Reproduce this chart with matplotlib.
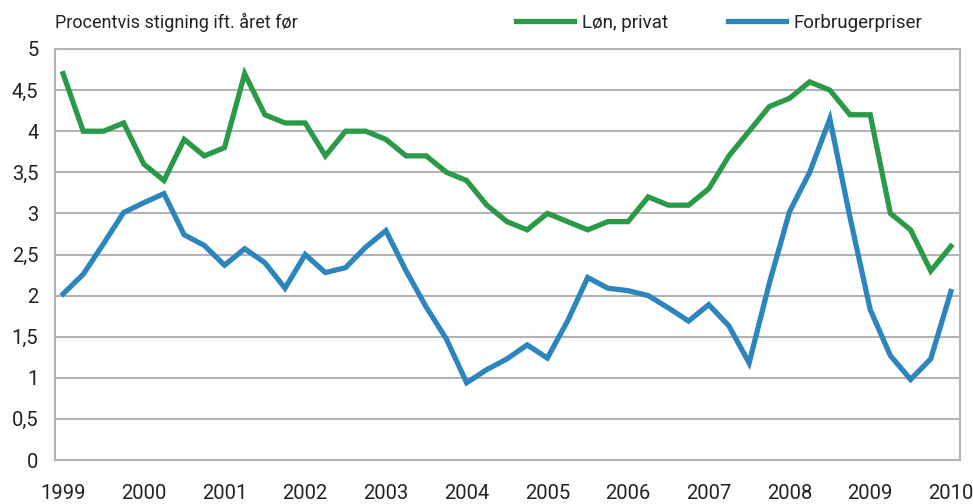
import matplotlib
matplotlib.use("Agg")
import matplotlib.pyplot as plt
from matplotlib import font_manager

# font: condensed sans if available
names = {f.name for f in font_manager.fontManager.ttflist}
if "Liberation Sans Narrow" in names:
    FONT = ["Liberation Sans Narrow", "DejaVu Sans"]
else:
    FONT = ["Roboto", "DejaVu Sans"]
plt.rcParams["font.family"] = FONT

# quarterly data 1999K1 - 2010K1
years = [1999, 2000, 2001, 2002, 2003, 2004, 2005, 2006, 2007, 2008, 2009, 2010]

loen_privat = [4.7, 4.0, 4.0, 4.1, 3.6, 3.4, 3.9, 3.7, 3.8, 4.7, 4.2, 4.1,
               4.1, 3.7, 4.0, 4.0, 3.9, 3.7, 3.7, 3.5, 3.4, 3.1, 2.9, 2.8,
               3.0, 2.9, 2.8, 2.9, 2.9, 3.2, 3.1, 3.1, 3.3, 3.7, 4.0, 4.3,
               4.4, 4.6, 4.5, 4.2, 4.2, 3.0, 2.8, 2.3, 2.6]

forbrugerpriser = [2.02, 2.26, 2.63, 3.01, 3.13, 3.24, 2.74, 2.61, 2.37, 2.57, 2.4, 2.09,
                   2.5, 2.28, 2.34, 2.59, 2.79, 2.3, 1.86, 1.47, 0.94, 1.1, 1.23, 1.4,
                   1.24, 1.69, 2.22, 2.09, 2.06, 2.0, 1.85, 1.69, 1.89, 1.63, 1.18, 2.15,
                   3.02, 3.5, 4.15, 2.95, 1.83, 1.27, 0.98, 1.23, 2.05]

GREEN = "#2b9a48"
BLUE = "#2c86bd"
GRID = "#b3b3b5"
TXT = "#222222"

x = list(range(len(loen_privat)))

fig = plt.figure(figsize=(9.73, 5.04), dpi=100)
ax = fig.add_axes([55 / 973, 1 - 460 / 504, 905 / 973, 411 / 504])

l1, = ax.plot(x, loen_privat, color=GREEN, lw=3.8, solid_joinstyle="miter", label="Løn, privat", zorder=3)
l2, = ax.plot(x, forbrugerpriser, color=BLUE, lw=3.8, solid_joinstyle="miter", label="Forbrugerpriser", zorder=3)

ax.set_xlim(-0.4, len(x) - 0.55)
ax.set_ylim(0, 5)

yt = [i * 0.5 for i in range(11)]
ax.set_yticks(yt)
ax.set_yticklabels([f"{v:g}".replace(".", ",") for v in yt])
ax.set_xticks([4 * i for i in range(len(years))])
ax.set_xticklabels([str(y) for y in years])

ax.yaxis.grid(True, color=GRID, lw=1.5)
ax.set_axisbelow(True)
for s in ax.spines.values():
    s.set_color(GRID)
    s.set_linewidth(1.5)
ax.tick_params(axis="both", length=0, labelsize=14.5, colors=TXT)
ax.tick_params(axis="y", pad=12)
ax.tick_params(axis="x", pad=17)

fig.text(55 / 973, 1 - 22 / 504, "Procentvis stigning ift. året før", fontsize=13,
         color=TXT, va="center", ha="left")

# two separate legend entries, placed like the original
for line, x0 in [(l1, 516), (l2, 728)]:
    leg = fig.legend(handles=[line], loc="center left", bbox_to_anchor=(x0 / 973, 1 - 23 / 504),
                     frameon=False, fontsize=13.5, handlelength=3.1, handletextpad=0.4,
                     borderaxespad=0, borderpad=0)
    for t in leg.get_texts():
        t.set_color(TXT)

fig.savefig("out.png", dpi=100)
